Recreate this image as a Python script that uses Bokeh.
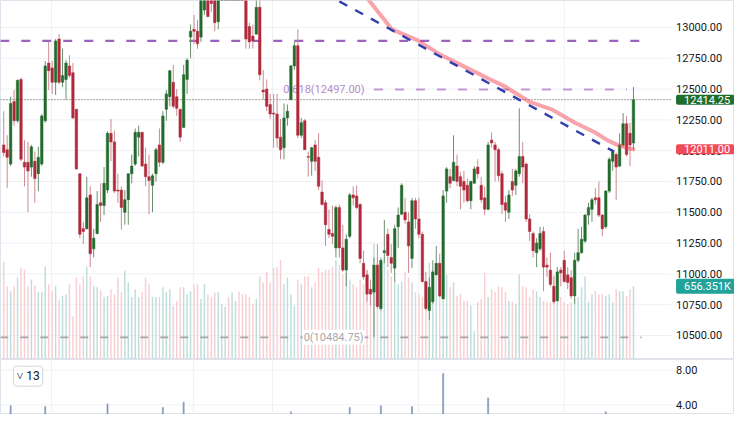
from bokeh.plotting import figure
from bokeh.layouts import column
from bokeh.models import ColumnDataSource, Range1d, Label
from bokeh.core.properties import value
from bokeh.embed import file_html
from bokeh.resources import INLINE

# ---------------- data ----------------
opens = [12047, 12008, 11891, 12399, 12243, 12578, 11906, 11906, 11867, 11914,
         11813, 11891, 12243, 12711, 12672, 12555, 12906, 12555, 12578, 12688,
         12633, 12336, 11813, 11367, 11367, 11641, 11203, 11328, 11578, 11555,
         11680, 12141, 12071, 11680, 11680, 11500, 11602, 11813, 11891, 12110,
         12149, 11891, 11789, 11719, 11813, 12047, 11906, 12336, 12438, 12555,
         12438, 12336, 12188, 12578, 12922, 12985, 12969, 12922, 13141, 13290,
         13258, 13219, 13047, 13300, 13380, 13440, 13390, 13450, 13500, 13420,
         13258, 13008, 12930, 12946, 13164, 12492, 12500, 12375, 12305, 12297,
         12110, 12024, 12266, 12414, 12688, 12852, 12125, 12243, 11953, 11914,
         12047, 11946, 11664, 11578, 11360, 11328, 11211, 11539, 11211, 11031,
         11305, 11641, 11633, 11563, 11086, 10992, 10875, 10852, 11071, 10719,
         11172, 11321, 11133, 11047, 11383, 11485, 11500, 11422, 11125, 11594,
         11446, 11321, 10938, 10703, 10774, 10992, 11086, 10797, 11672, 11789,
         11758, 11875, 11789, 11750, 11719, 11594, 11735, 11867, 11719, 11617,
         11524, 12086, 12047, 12008, 11813, 11578, 11500, 11750, 11719, 11813,
         11953, 11891, 11446, 11328, 11172, 11203, 11344, 11071, 11031, 10899,
         10782, 11031, 11110, 10992, 10969, 10821, 11110, 11172, 11266, 11477,
         11524, 11617, 11617, 11477, 11383, 11672, 11914, 11969, 11875, 12047,
         12219, 12141, 12063]
highs = [12321, 12125, 12438, 12492, 12578, 12594, 12086, 12071, 12047, 11992,
         12031, 12297, 12727, 12883, 12727, 12906, 12946, 12828, 12735, 12774,
         12711, 12340, 11813, 11422, 11789, 11711, 11367, 11672, 11735, 11867,
         12156, 12258, 12164, 11813, 11711, 11680, 11813, 11969, 12180, 12203,
         12149, 12024, 11969, 11813, 12024, 12180, 12321, 12492, 12656, 12696,
         12500, 12336, 12696, 12750, 13024, 13102, 13063, 13258, 13414, 13350,
         13297, 13297, 13336, 13420, 13480, 13520, 13470, 13540, 13560, 13440,
         13297, 13039, 13024, 13230, 13240, 12656, 12578, 12461, 12461, 12461,
         12258, 12383, 12375, 12696, 12883, 12985, 12266, 12258, 11992, 12031,
         12086, 12141, 11758, 11602, 11524, 11555, 11555, 11563, 11399, 11321,
         11656, 11711, 11719, 11578, 11188, 11031, 10953, 11133, 11242, 11133,
         11438, 11367, 11242, 11399, 11539, 11735, 11617, 11500, 11617, 11617,
         11617, 11344, 11016, 10969, 11110, 11227, 11164, 11680, 11867, 11852,
         12125, 11969, 11828, 11836, 11774, 11758, 11875, 11930, 11789, 11711,
         12071, 12149, 12071, 12024, 11836, 11633, 11680, 11852, 11852, 12344,
         12071, 11906, 11485, 11344, 11289, 11383, 11383, 11133, 11172, 10977,
         11055, 11055, 11188, 11055, 11031, 11172, 11367, 11383, 11485, 11578,
         11617, 11696, 11750, 11485, 11680, 11946, 12008, 11985, 12141, 12305,
         12282, 12227, 12516]
lows = [11953, 11696, 11875, 12203, 12227, 11914, 11711, 11500, 11789, 11578,
        11672, 11875, 12227, 12492, 12461, 12453, 12539, 12516, 12414, 12594,
        12258, 11845, 11289, 11242, 11360, 11055, 11133, 11321, 11422, 11477,
        11656, 11914, 11656, 11578, 11360, 11399, 11399, 11735, 11875, 11953,
        11867, 11711, 11485, 11500, 11750, 11867, 11891, 12243, 12360, 12344,
        12282, 12071, 12188, 12461, 12750, 12867, 12828, 12883, 13102, 13080,
        13125, 12969, 12985, 13290, 13330, 13360, 13310, 13400, 13380, 13300,
        12828, 12828, 12828, 12946, 12571, 12414, 12321, 12258, 12024, 12024,
        11930, 11930, 12203, 12414, 12656, 12102, 12102, 12008, 11789, 11797,
        11836, 11680, 11555, 11227, 11289, 11242, 11133, 11133, 11016, 10899,
        11289, 11555, 11524, 11086, 10953, 10774, 10743, 10484.75, 10719, 10703,
        11086, 11055, 11008, 10938, 11211, 11477, 11406, 11008, 11047, 11367,
        11289, 10930, 10703, 10625, 10758, 10992, 10813, 10797, 11578, 11696,
        11750, 11711, 11524, 11578, 11578, 11524, 11735, 11774, 11578, 11477,
        11516, 12024, 11750, 11750, 11485, 11422, 11446, 11633, 11641, 11789,
        11735, 11422, 11266, 11133, 11055, 11188, 10860, 10977, 10899, 10758,
        10774, 10899, 10930, 10875, 10797, 10758, 11094, 11164, 11250, 11399,
        11422, 11563, 11461, 11305, 11367, 11656, 11836, 11602, 11867, 12031,
        11953, 11875, 12008]
closes = [11985, 11946, 12383, 12243, 12571, 11930, 11867, 11836, 12031, 11774,
          11946, 12282, 12688, 12649, 12555, 12891, 12555, 12610, 12711, 12610,
          12266, 11852, 11321, 11344, 11617, 11164, 11289, 11563, 11555, 11735,
          12141, 12071, 11672, 11672, 11539, 11602, 11813, 11875, 12149, 12149,
          11875, 11789, 11758, 11797, 12008, 11906, 12282, 12461, 12649, 12360,
          12344, 12110, 12617, 12735, 12969, 12969, 12867, 13219, 13375, 13090,
          13195, 13039, 13258, 13380, 13440, 13390, 13450, 13500, 13420, 13320,
          12906, 12883, 12891, 13164, 12617, 12477, 12360, 12297, 12297, 12102,
          12008, 12266, 12321, 12688, 12852, 12125, 12227, 12008, 11946, 12024,
          11914, 11711, 11563, 11399, 11321, 11305, 11539, 11211, 11031, 11281,
          11641, 11617, 11539, 11125, 10977, 10836, 10836, 11071, 10735, 11110,
          11188, 11149, 11086, 11367, 11477, 11719, 11438, 11227, 11594, 11446,
          11321, 10938, 10719, 10891, 11016, 11086, 10821, 11633, 11852, 11735,
          11906, 11750, 11711, 11680, 11594, 11750, 11852, 11813, 11602, 11524,
          12047, 12063, 12008, 11797, 11563, 11516, 11641, 11680, 11836, 11953,
          11867, 11446, 11344, 11188, 11250, 11328, 11055, 11055, 10915, 10774,
          11016, 11008, 10938, 10930, 10821, 11110, 11172, 11281, 11477, 11539,
          11602, 11602, 11477, 11367, 11672, 11930, 11992, 11867, 12047, 12219,
          11969, 12047, 12414.25]
# volume in thousands
volumes = [875, 656, 613, 656, 735, 823, 805, 656, 718, 665,
           604, 604, 831, 674, 613, 656, 534, 569, 586, 674,
           385, 735, 674, 744, 831, 744, 656, 648, 621, 560,
           569, 630, 586, 735, 604, 796, 691, 560, 630, 560,
           604, 735, 674, 560, 560, 560, 648, 604, 630, 481,
           525, 648, 648, 586, 613, 674, 674, 543, 674, 586,
           560, 604, 604, 499, 473, 560, 604, 525, 613, 586,
           586, 560, 499, 543, 744, 691, 788, 691, 823, 831,
           893, 674, 735, 586, 481, 718, 674, 744, 744, 648,
           691, 823, 788, 805, 805, 831, 893, 849, 761, 779,
           718, 674, 648, 718, 674, 805, 569, 1041, 919, 875,
           919, 805, 744, 718, 674, 700, 788, 735, 691, 604,
           586, 560, 604, 866, 805, 788, 700, 674, 761, 648,
           691, 569, 586, 525, 525, 481, 254, 516, 543, 779,
           560, 630, 604, 656, 648, 604, 525, 516, 499, 761,
           656, 648, 560, 630, 613, 560, 525, 516, 516, 761,
           525, 560, 516, 499, 516, 543, 560, 648, 744, 516,
           586, 613, 586, 586, 569, 586, 516, 630, 613, 613,
           569, 630, 656.351]

# moving average (drawn as a line)
ma_x = [103.7, 105.6, 108.8, 112.2, 115.9, 119.8, 126.4, 133.4, 140.5, 145.2,
        151.8, 158.3, 165.1, 170.8, 174.4, 177.3, 180.1, 182.0]
ma_y = [13286, 13219, 13105, 12984, 12940, 12893, 12776, 12678, 12580, 12516,
        12399, 12336, 12227, 12149, 12086, 12047, 12024, 12011.00]

# dashed trend line
trend_x = [97.0, 176.4]
trend_y = [13212, 11992]

# horizontal levels
resistance_level = 12891
resistance_span = [-1.0, 185.2]
fib_0618 = 12497.00
fib_0618_span = [107.0, 180.1]
fib_0 = 10484.75
fib_0_span = [-1.0, 184.3]
fib_label_x = 104.3

last_close = 12414.25
ma_last = 12011.00
last_volume = 656.351  # thousands

# lower pane indicator (index, value)
ind_x = [2, 12, 30, 46, 52, 83, 100, 109, 118, 127, 140, 174]
ind_v = [3.9, 3.8, 4.1, 3.7, 4.3, 3.2, 3.7, 3.9, 3.8, 7.6, 4.8, 3.2]

price_ticks = [10500, 10750, 11000, 11250, 11500, 11750, 12000, 12250,
               12500, 12750, 13000]
ind_ticks = [4, 8]
period_breaks = [13.8, 54.8, 77.7, 119.9, 162.0]

# ---------------- layout constants ----------------
FONT = "Roboto"
GREEN = "#236b2d"
RED = "#b02a3c"
WICK_G = "#6e8e70"
WICK_R = "#cc8a92"
VOL_G = "#bddedb"
VOL_R = "#f7cfd3"
GRID = "#eef0f4"
TXT = "#131722"

W = 734
X0, X1 = -0.93, 211.2        # full canvas width in bar units
PANE_EDGE = 192.8            # right edge of price pane (start of scale area)
LABEL_X = 194.3              # x of scale labels
P_LO, P_HI = 10305, 13219
I_LO, I_HI = 2.89, 9.22

n = len(opens)
idx = list(range(n))
up = [c >= o for o, c in zip(opens, closes)]
src = ColumnDataSource(dict(
    x=idx,
    top=[max(o, c) for o, c in zip(opens, closes)],
    bottom=[min(o, c) for o, c in zip(opens, closes)],
    high=highs, low=lows,
    body=[GREEN if u else RED for u in up],
    wick=[WICK_G if u else WICK_R for u in up],
    vol=volumes,
    volc=[VOL_G if u else VOL_R for u in up],
))

x_range = Range1d(X0, X1)


def base_fig(h, lo, hi):
    f = figure(width=W, height=h, x_range=x_range, y_range=Range1d(lo, hi),
               output_backend="svg", toolbar_location=None,
               min_border_left=0, min_border_right=0, min_border_top=0,
               min_border_bottom=0)
    f.axis.visible = False
    f.grid.visible = False
    f.outline_line_color = "#e0e3eb"
    f.background_fill_color = "white"
    f.border_fill_color = "white"
    f.segment(x0=period_breaks, x1=period_breaks, y0=lo, y1=hi,
              line_color=GRID, line_width=1)
    return f


p = base_fig(359, P_LO, P_HI)
p.extra_y_ranges = {"vol": Range1d(0, 3220)}
p.segment(x0=X0, x1=PANE_EDGE, y0=price_ticks, y1=price_ticks,
          line_color=GRID, line_width=1)
p.text(x=LABEL_X, y=price_ticks, text=[f"{t:.2f}" for t in price_ticks],
       text_align="left", text_baseline="middle", text_color=TXT,
       text_font=value(FONT), text_font_size="11px")

# volume
p.vbar(x="x", top="vol", bottom=0, width=0.42, fill_color="volc",
       line_color=None, source=src, y_range_name="vol")

# fib 0.618 label (drawn beneath candles)
p.text(x=[fib_label_x], y=[fib_0618], text=[f"0.618({fib_0618:.2f})"],
       text_align="right", text_baseline="middle", text_color="#b48ccb",
       text_font=value(FONT), text_font_size="11px")

# level lines
p.line(resistance_span, [resistance_level] * 2, line_color="#9a62bd",
       line_width=2.4, line_dash="9 12")
p.line(fib_0618_span, [fib_0618] * 2, line_color="#c497d6",
       line_width=2, line_dash="9 12")
p.line(fib_0_span, [fib_0] * 2, line_color="#a5a5a5",
       line_width=1.6, line_dash="8 12")

# current price dotted line
p.line([X0, PANE_EDGE], [last_close, last_close], line_color="#444444",
       line_width=1, line_dash="1 2")

# candles
p.segment(x0="x", y0="high", x1="x", y1="low", line_color="wick",
          line_width=1, source=src)
p.vbar(x="x", top="top", bottom="bottom", width=0.72, fill_color="body",
       line_color="body", line_width=0.5, source=src)

# moving average and trend line
p.line(ma_x, ma_y, line_color="#f23645", line_alpha=0.45, line_width=4,
       line_cap="round", line_join="round")
p.line(trend_x, trend_y, line_color="#2f3fae", line_width=2.4,
       line_dash="9 9")

# fib 0 label
p.add_layout(Label(x=fib_label_x, y=fib_0, text=f"0({fib_0:.2f})",
                   text_align="right", text_baseline="middle",
                   text_color="#a8a8a8", text_font=FONT,
                   text_font_size="11px", background_fill_color="white",
                   padding=1))


# right-hand value tags
def tag(fig, y, text, color, rng="default"):
    fig.add_layout(Label(x=LABEL_X, y=y, text=text,
                         text_align="left", text_baseline="middle",
                         text_color="white", text_font=FONT,
                         text_font_size="11px",
                         background_fill_color=color,
                         padding=dict(left=8, right=4, top=1, bottom=1),
                         border_radius=2, y_range_name=rng))


tag(p, last_close, f"{last_close:.2f}", "#1f6e2c")
tag(p, ma_last, f"{ma_last:.2f}", "#f04a58")
tag(p, last_volume, f"{last_volume:.3f}K", "#22a39a", "vol")

# ---------------- lower pane ----------------
q = base_fig(55, I_LO, I_HI)
q.segment(x0=X0, x1=PANE_EDGE, y0=ind_ticks, y1=ind_ticks,
          line_color=GRID, line_width=1)
q.text(x=LABEL_X, y=ind_ticks, text=[f"{t:.2f}" for t in ind_ticks],
       text_align="left", text_baseline="middle", text_color=TXT,
       text_font=value(FONT), text_font_size="11px")
q.vbar(x=ind_x, top=ind_v, bottom=0, width=0.3, fill_color="#7f93bb",
       line_color="#7f93bb", line_width=0.6)
q.add_layout(Label(x=13, y=7.3, x_units="screen", text="˅ 13",
                   text_baseline="middle", text_color=TXT, text_font=FONT,
                   text_font_size="12px", background_fill_color="white",
                   border_line_color="#d1d4dc", border_radius=3, padding=3))

layout = column(p, q, spacing=0)
open("out.html", "w").write(file_html(layout, INLINE))
